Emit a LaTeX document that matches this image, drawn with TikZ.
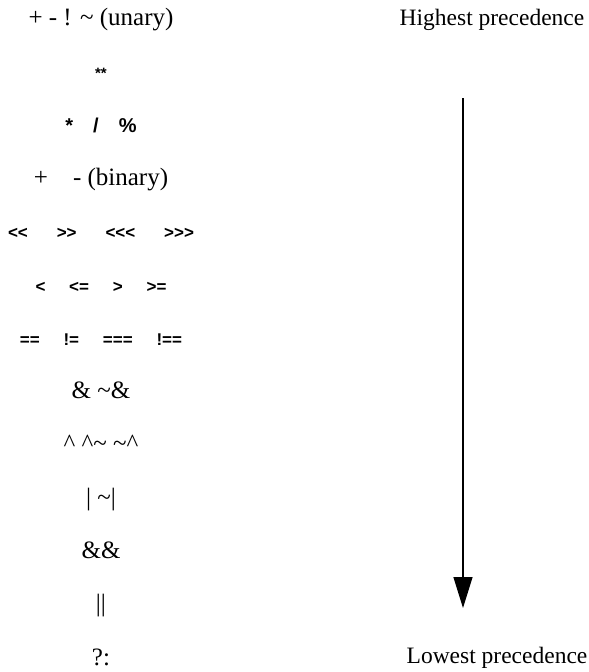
\documentclass[tikz,border=0pt]{standalone}
\usepackage{fontspec}
\setmainfont{Liberation Serif}
\newfontfamily\opsans{Liberation Sans}
\usepackage{tikz}
\usetikzlibrary{positioning,arrows.meta}

\begin{document}
\begin{tikzpicture}[
    x=1pt, y=-1pt,
    node distance=53.3pt, on grid,
    op/.style={inner sep=0pt, text height=16pt, text depth=5pt, font=\fontsize{25}{28}\selectfont},
    opsym/.style={op, font=\opsans\bfseries\fontsize{17}{20}\selectfont},
    lbl/.style={inner sep=0pt, font=\fontsize{23.5}{27}\selectfont},
    arrow/.style={-{Triangle[width=19pt,length=31pt]}, line width=1.3pt},
  ]
    \useasboundingbox (0,0) rectangle (589,672);

    % operators, highest first
    \node[op] (unary) at (101,20) {+ - ! \textasciitilde{} (unary)};
    \node[opsym, below=of unary, font=\opsans\bfseries\fontsize{15}{18}\selectfont] (power) {**};
    \node[opsym, below=of power, font=\opsans\bfseries\fontsize{20}{24}\selectfont] (mult) {*\hspace{1em}/\hspace{1em}\%};
    \node[op, below=of mult] (binary) {+\hspace{1em}- (binary)};
    \node[opsym, below=of binary] (shift) {<<\hspace{1.7em}>>\hspace{1.7em}<<<\hspace{1.7em}>>>};
    \node[opsym, below=of shift] (rel) {<\hspace{1.4em}<=\hspace{1.4em}>\hspace{1.4em}>=};
    \node[opsym, below=of rel] (equal) {==\hspace{1.4em}!=\hspace{1.4em}===\hspace{1.4em}!==};
    \node[op, below=of equal] (band) {\& \textasciitilde\&};
    \node[op, below=of band] (bxor) {\textasciicircum{} \textasciicircum\textasciitilde{} \textasciitilde\textasciicircum};
    \node[op, below=of bxor] (bor) {| \textasciitilde|};
    \node[op, below=of bor] (land) {\&\&};
    \node[op, below=of land] (lor) {||};
    \node[op, below=of lor] (cond) {?:};

    \node[lbl] (high) at (492,20) {Highest precedence};
    \node[lbl] (low) at (497,658) {Lowest precedence};

    \coordinate (arrtop) at (463,98);
    \coordinate (arrbot) at (463,608);
    \draw[arrow] (arrtop) -- (arrbot);
  \end{tikzpicture}
\end{document}
